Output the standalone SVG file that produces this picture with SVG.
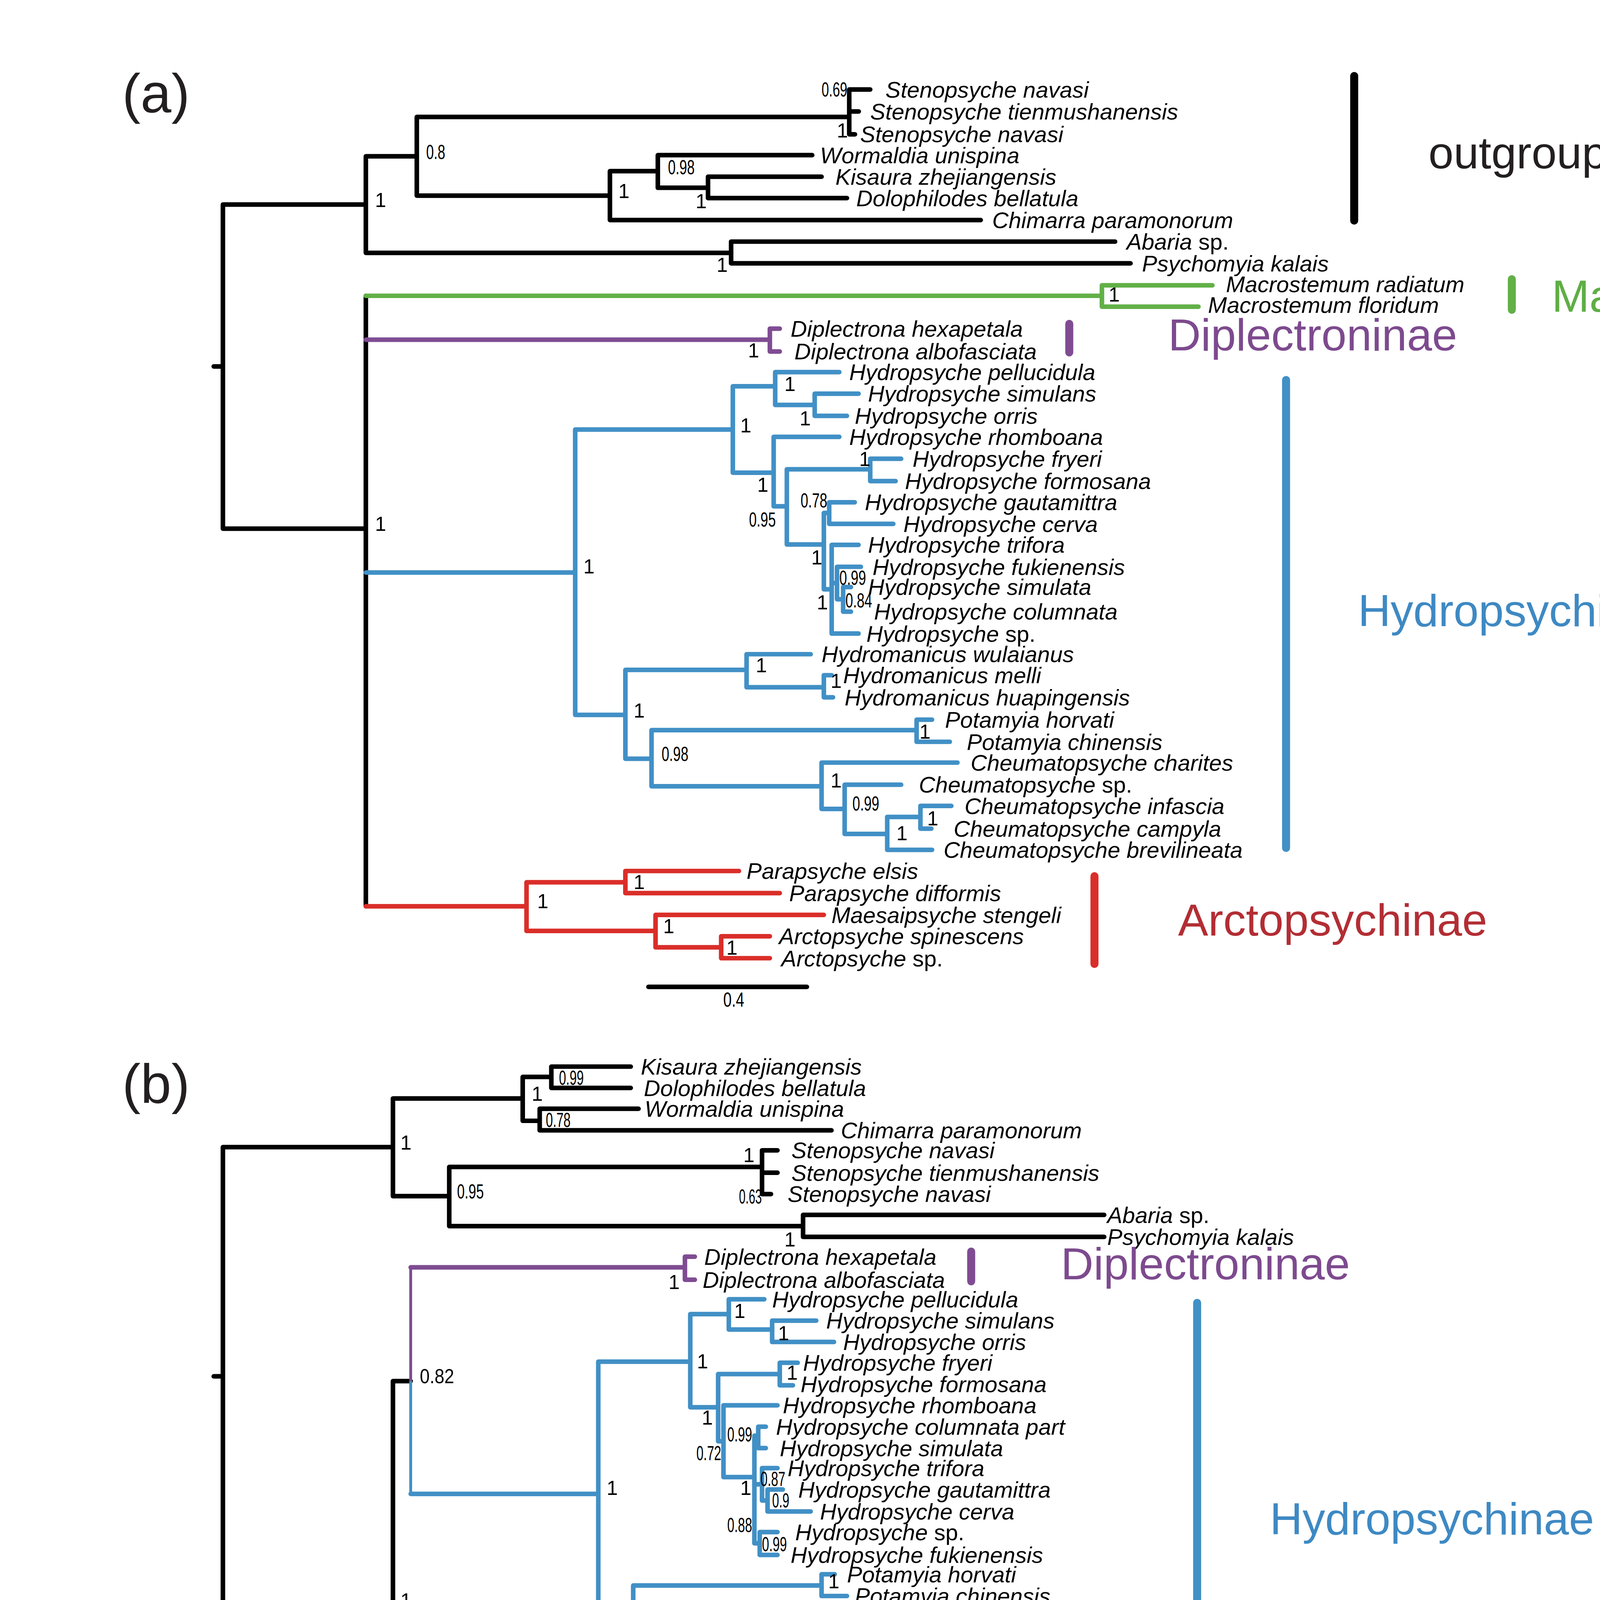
<svg xmlns="http://www.w3.org/2000/svg" width="5374" height="7600" viewBox="0 0 5374 7600">
<style>
.br{fill:none;stroke-width:2.4;stroke-linecap:round;stroke-linejoin:round}
.st{fill:none;stroke-width:1.5}
.bar{fill:none;stroke-width:4.2;stroke-linecap:round}
.k{stroke:#000}.gr{stroke:#62b047}.pu{stroke:#7f4c92}.bl{stroke:#4190c6}.rd{stroke:#da2e29}
text{font-family:"Liberation Sans",Arial,Helvetica,sans-serif}
.t{font-size:11.9px;font-style:italic;fill:#000}
.up{font-style:normal}
.s{font-size:10.5px;fill:#000}
.c{font-size:23.7px}
.pl{font-size:29px;fill:#231f20}
.cg{fill:#5fae45}.cp{fill:#7d4a8e}.cb{fill:#3e89c3}.cr{fill:#b32d34}.ck{fill:#231f20}
</style>
<rect width="5374" height="7600" fill="#fff"/>
<g transform="scale(4.8855)">
<!-- ================= PANEL A ================= -->
<g id="panel-a">
<text class="pl" x="64" y="59">(a)</text>
<g id="a-connectors">
<path class="br k" d="M112 192H116.8M116.8 107.2V277M116.8 107.2H191.7M191.7 81.9V132.5M191.7 81.9H218.4M218.4 61.3V102.5M218.4 61.3H445M445 46.9V70.4M445 46.9H456M445 58.4H450M445 70.4H448M218.4 102.5H319.6M319.6 89.7V115.3M319.6 89.7H344.7M344.7 81.3V98.4M344.7 81.3H425.6M344.7 98.4H371M371 92.6V103.8M371 92.6H430.5M371 103.8H443.8M319.6 115.3H513.9M191.7 132.5H383.1M383.1 126.6V138M383.1 126.6H584.3M383.1 138H592.4M116.8 277H191.7M191.7 155V474.9"/>
<path class="br gr" d="M191.7 155H577.4M577.4 149.5V160.7M577.4 149.5H635.3M577.4 160.7H628"/>
<path class="br pu" d="M191.7 178H403.4M403.4 172.2V184.2M403.4 172.2H408.6M403.4 184.2H408.6"/>
<path class="br bl" d="M191.7 300H301.4M301.4 225.1V374.6M301.4 225.1H384M384 202.4V247.7M384 202.4H406.2M406.2 195V212.2M406.2 195H439.8M406.2 212.2H426.9M426.9 206.3V217.9M426.9 206.3H449.9M426.9 217.9H443.8M384 247.7H405.4M405.4 228.9V265.3M405.4 228.9H439.8M405.4 265.3H412.3M412.3 245.9V285.3M412.3 245.9H456M456 240.4V252.1M456 240.4H472.2M456 252.1H469.3M412.3 285.3H431.7M431.7 268.8V308.8M431.7 268.8H434.5M434.5 263.2V274.5M434.5 263.2H447.9M434.5 274.5H468.1M431.7 308.8H435.8M435.8 285.5V332M435.8 285.5H449.9M435.8 332H449.9M435.8 305.5H438.6M438.6 297V314M438.6 297H451.1M438.6 314H441.8M441.8 307.6V320.5M441.8 307.6H445.9M441.8 320.5H445.9M301.4 374.6H327.7M327.7 351V397.6M327.7 351H391.2M391.2 342.8V360.1M391.2 342.8H424.8M391.2 360.1H431.7M431.7 353.8V365.4M431.7 353.8H435.8M431.7 365.4H436.5M327.7 397.6H341.4M341.4 382.6V412M341.4 382.6H480.3M480.3 377.1V388.7M480.3 377.1H488.4M480.3 388.7H497.7M341.4 412H430.5M430.5 399.6V423.9M430.5 399.6H501.7M430.5 423.9H442.6M442.6 411.2V437M442.6 411.2H472.2M442.6 437H464.9M464.9 428.1V445.3M464.9 428.1H482.3M482.3 422.3V434.2M482.3 422.3H498.5M482.3 434.2H488M464.9 445.3H488.4"/>
<path class="br rd" d="M191.7 474.9H275.9M275.9 462.3V487.8M275.9 462.3H327.7M327.7 456.4V468M327.7 456.4H387.2M327.7 468H408.6M275.9 487.8H343.5M343.5 479.4V496.4M343.5 479.4H431.7M343.5 496.4H377.9M377.9 490.6V502.1M377.9 490.6H403.4M377.9 502.1H403.4"/>
<path class="br k" d="M339.8 517.1H422.8"/>
</g>
<text class="s" x="379" y="527.4" textLength="11" lengthAdjust="spacingAndGlyphs">0.4</text>
<g id="a-tips">
<text id="a-t01" class="t" x="464" y="51.1">Stenopsyche navasi</text>
<text id="a-t02" class="t" x="456" y="62.6">Stenopsyche tienmushanensis</text>
<text id="a-t03" class="t" x="450.7" y="74.6">Stenopsyche navasi</text>
<text id="a-t04" class="t" x="429.7" y="85.5">Wormaldia unispina</text>
<text id="a-t05" class="t" x="437.8" y="96.8">Kisaura zhejiangensis</text>
<text id="a-t06" class="t" x="448.7" y="108">Dolophilodes bellatula</text>
<text id="a-t07" class="t" x="519.9" y="119.5">Chimarra paramonorum</text>
<text id="a-t08" class="t" x="590.3" y="130.8">Abaria <tspan class="up">sp.</tspan></text>
<text id="a-t09" class="t" x="598.4" y="142.2">Psychomyia kalais</text>
<text id="a-t10" class="t" x="642.4" y="153.2">Macrostemum radiatum</text>
<text id="a-t11" class="t" x="633" y="164">Macrostemum floridum</text>
<text id="a-t12" class="t" x="414.3" y="176.4">Diplectrona hexapetala</text>
<text id="a-t13" class="t" x="416.3" y="188.4">Diplectrona albofasciata</text>
<text id="a-t14" class="t" x="445" y="199.2">Hydropsyche pellucidula</text>
<text id="a-t15" class="t" x="454.8" y="210.5">Hydropsyche simulans</text>
<text id="a-t16" class="t" x="447.9" y="222.1">Hydropsyche orris</text>
<text id="a-t17" class="t" x="445" y="233.1">Hydropsyche rhomboana</text>
<text id="a-t18" class="t" x="478.2" y="244.6">Hydropsyche fryeri</text>
<text id="a-t19" class="t" x="474.2" y="256.3">Hydropsyche formosana</text>
<text id="a-t20" class="t" x="453.2" y="267.4">Hydropsyche gautamittra</text>
<text id="a-t21" class="t" x="473.4" y="278.7">Hydropsyche cerva</text>
<text id="a-t22" class="t" x="454.8" y="289.7">Hydropsyche trifora</text>
<text id="a-t23" class="t" x="457.2" y="301.2">Hydropsyche fukienensis</text>
<text id="a-t24" class="t" x="454.8" y="311.8">Hydropsyche simulata</text>
<text id="a-t25" class="t" x="458" y="324.7">Hydropsyche columnata</text>
<text id="a-t26" class="t" x="454" y="336.2">Hydropsyche <tspan class="up">sp.</tspan></text>
<text id="a-t27" class="t" x="430.5" y="347">Hydromanicus wulaianus</text>
<text id="a-t28" class="t" x="441.8" y="358">Hydromanicus melli</text>
<text id="a-t29" class="t" x="442.6" y="369.6">Hydromanicus huapingensis</text>
<text id="a-t30" class="t" x="495.2" y="381.3">Potamyia horvati</text>
<text id="a-t31" class="t" x="506.6" y="392.9">Potamyia chinensis</text>
<text id="a-t32" class="t" x="508.6" y="403.8">Cheumatopsyche charites</text>
<text id="a-t33" class="t" x="481.5" y="415.4">Cheumatopsyche <tspan class="up">sp.</tspan></text>
<text id="a-t34" class="t" x="505.4" y="426.5">Cheumatopsyche infascia</text>
<text id="a-t35" class="t" x="499.7" y="438.4">Cheumatopsyche campyla</text>
<text id="a-t36" class="t" x="494.4" y="449.5">Cheumatopsyche brevilineata</text>
<text id="a-t37" class="t" x="391.2" y="460.6">Parapsyche elsis</text>
<text id="a-t38" class="t" x="413.5" y="472.2">Parapsyche difformis</text>
<text id="a-t39" class="t" x="435.7" y="483.6">Maesaipsyche stengeli</text>
<text id="a-t40" class="t" x="408.2" y="494.8">Arctopsyche spinescens</text>
<text id="a-t41" class="t" x="409.4" y="506.3">Arctopsyche <tspan class="up">sp.</tspan></text>
</g>
<g id="a-support" class="s">
<text x="430.5" y="50.5" textLength="13.5" lengthAdjust="spacingAndGlyphs">0.69</text>
<text x="438.5" y="72">1</text>
<text x="223.3" y="83.4" textLength="10" lengthAdjust="spacingAndGlyphs">0.8</text>
<text x="196.5" y="108.5">1</text>
<text x="324" y="103.8">1</text>
<text x="350" y="91.3" textLength="14" lengthAdjust="spacingAndGlyphs">0.98</text>
<text x="364.5" y="109">1</text>
<text x="375.5" y="142.4">1</text>
<text x="580.9" y="158.1">1</text>
<text x="392" y="187.3">1</text>
<text x="196.5" y="278.2">1</text>
<text x="305.7" y="300.5">1</text>
<text x="387.9" y="226.5">1</text>
<text x="411" y="204.8">1</text>
<text x="419" y="223">1</text>
<text x="396.8" y="257.7">1</text>
<text x="392.5" y="275.9" textLength="14" lengthAdjust="spacingAndGlyphs">0.95</text>
<text x="450.2" y="244.1">1</text>
<text x="419.5" y="265.9" textLength="14" lengthAdjust="spacingAndGlyphs">0.78</text>
<text x="425.1" y="295.8">1</text>
<text x="439.8" y="306.4" textLength="14" lengthAdjust="spacingAndGlyphs">0.99</text>
<text x="443" y="318.2" textLength="14" lengthAdjust="spacingAndGlyphs">0.84</text>
<text x="428" y="319.3">1</text>
<text x="396" y="352.2">1</text>
<text x="435.2" y="360.5">1</text>
<text x="332" y="376">1</text>
<text x="346.7" y="398.7" textLength="14" lengthAdjust="spacingAndGlyphs">0.98</text>
<text x="481.8" y="387">1</text>
<text x="435.2" y="412.6">1</text>
<text x="446.7" y="424.8" textLength="14" lengthAdjust="spacingAndGlyphs">0.99</text>
<text x="469.7" y="440.3">1</text>
<text x="485.8" y="432.5">1</text>
<text x="281.5" y="475.8">1</text>
<text x="332" y="465.8">1</text>
<text x="347.5" y="489.1">1</text>
<text x="380.6" y="500.2">1</text>
</g>
<g id="a-outgroup"><path class="bar k" d="M709.6 39.8V115.6"/><text class="c ck" x="748.5" y="88.3">outgroup</text></g>
<g id="a-macronematinae"><path class="bar gr" d="M792.2 146.3V162.3"/><text class="c cg" x="813.1" y="163.4">Macronematinae</text></g>
<g id="a-diplectroninae"><path class="bar pu" d="M560.3 169.7V184.7"/><text class="c cp" x="612.1" y="183.6">Diplectroninae</text></g>
<g id="a-hydropsychinae"><path class="bar bl" d="M673.9 199.1V444.3"/><text class="c cb" x="711.6" y="328.1">Hydropsychinae</text></g>
<g id="a-arctopsychinae"><path class="bar rd" d="M573.5 459.1V505.1"/><text class="c cr" x="617.3" y="490.3">Arctopsychinae</text></g>
</g>
<!-- ================= PANEL B ================= -->
<g id="panel-b">
<text class="pl" x="64" y="577.9">(b)</text>
<g id="b-connectors">
<path class="br k" d="M112 721.2H116.8M116.8 601.1V841.6M116.8 601.1H205.9M205.9 575.6V626.8M205.9 575.6H273.9M273.9 564.3V587.3M273.9 564.3H288.9M288.9 558.9V570.1M288.9 558.9H330.5M288.9 570.1H330.5M273.9 587.3H282.8M282.8 581V592.3M282.8 581H334.6M282.8 592.3H435.7M205.9 626.8H235.4M235.4 611.5V642.5M235.4 611.5H399.3M399.3 602.8V625.7M399.3 602.8H407.4M399.3 614.5H407.4M399.3 625.7H404M235.4 642.5H420.8M420.8 636.6V648.1M420.8 636.6H578.6M420.8 648.1H578.6M116.8 841.6H205.9M205.9 723.7V959M205.9 723.7H215.2M205.9 959H216.4"/>
<path class="st pu" d="M215.2 723.7V664.1"/>
<path class="br pu" d="M215.2 664.1H358.9M358.9 658.5V670.6M358.9 658.5H364.1M358.9 670.6H364.1"/>
<path class="st bl" d="M215.2 723.7V782.8"/>
<path class="br bl" d="M215.2 782.8H313.5M313.5 713.5V852.7M313.5 713.5H361.7M361.7 688.6V737.4M361.7 688.6H381.9M381.9 680.8V696.7M381.9 680.8H400.5M381.9 696.7H404.6M404.6 692V703.2M404.6 692H427.7M404.6 703.2H437M361.7 737.4H376.3M376.3 720V755.2M376.3 720H408.6M408.6 714.1V725.9M408.6 714.1H418M408.6 725.9H415.5M376.3 755.2H379.1M379.1 736.4V774M379.1 736.4H407.4M379.1 774H395.3M395.3 752.3V808.7M395.3 752.3H397.3M397.3 747.6V758.8M397.3 747.6H401.3M397.3 758.8H401.3M395.3 777.8H399.3M399.3 769.3V786.3M399.3 769.3H407.4M399.3 786.3H402.2M402.2 780.5V792M402.2 780.5H410.2M402.2 792H424.8M395.3 808.7H398.1M398.1 802.8V814.8M398.1 802.8H407.4M398.1 814.8H407.4M313.5 852.7H331.8M331.8 830.8V875M331.8 830.8H430.5M430.5 824.9V836.3M430.5 824.9H437.4M430.5 836.3H443.8M331.8 875H339.8M339.8 855.7V892.6M339.8 855.7H382.3M382.3 847.5V864.1M382.3 847.5H404.6M382.3 864.1H408.6M408.6 858V870M408.6 858H413M408.6 870H413M339.8 892.6H398.1M398.1 880.4V904.3M398.1 880.4H438.6M398.1 904.3H407.4M407.4 891.5V917.6M407.4 891.5H446.7M407.4 917.6H418.3M418.3 907.6V925M418.3 907.6H430.5M430.5 902.3V913.9M430.5 902.3H436.5M430.5 913.9H437.5M418.3 925H432.9"/>
<path class="st gr" d="M216.4 959V941.5"/>
<path class="br gr" d="M216.4 941.5H534.1M534.1 935.9V947.2M534.1 935.9H585.5M534.1 947.2H558.4"/>
<path class="st rd" d="M216.4 959V976.8"/>
<path class="br rd" d="M216.4 976.8H259.7M259.7 964V989.2M259.7 964H292.9M292.9 958.3V970M292.9 958.3H328.5M292.9 970H337.8M259.7 989.2H303M303 980.6V997.5M303 980.6H358.9M303 997.5H325.3M325.3 991.6V1002.8M325.3 991.6H339.8M325.3 1002.8H340.5"/>
<path class="br k" d="M307 1017.3H390.4"/>
</g>
<text class="s" x="348.7" y="1029.7" textLength="11" lengthAdjust="spacingAndGlyphs">0.4</text>
<g id="b-tips">
<text id="b-t01" class="t" x="335.8" y="563.1">Kisaura zhejiangensis</text>
<text id="b-t02" class="t" x="337.4" y="574.3">Dolophilodes bellatula</text>
<text id="b-t03" class="t" x="337.8" y="585.2">Wormaldia unispina</text>
<text id="b-t04" class="t" x="440.6" y="596.5">Chimarra paramonorum</text>
<text id="b-t05" class="t" x="414.7" y="607">Stenopsyche navasi</text>
<text id="b-t06" class="t" x="414.7" y="618.7">Stenopsyche tienmushanensis</text>
<text id="b-t07" class="t" x="412.7" y="629.9">Stenopsyche navasi</text>
<text id="b-t08" class="t" x="580.2" y="640.8">Abaria <tspan class="up">sp.</tspan></text>
<text id="b-t09" class="t" x="580.2" y="652.3">Psychomyia kalais</text>
<text id="b-t10" class="t" x="369" y="662.7">Diplectrona hexapetala</text>
<text id="b-t11" class="t" x="368.2" y="674.8">Diplectrona albofasciata</text>
<text id="b-t12" class="t" x="404.6" y="685">Hydropsyche pellucidula</text>
<text id="b-t13" class="t" x="432.9" y="696.2">Hydropsyche simulans</text>
<text id="b-t14" class="t" x="441.8" y="707.4">Hydropsyche orris</text>
<text id="b-t15" class="t" x="420.8" y="718.3">Hydropsyche fryeri</text>
<text id="b-t16" class="t" x="419.5" y="729.5">Hydropsyche formosana</text>
<text id="b-t17" class="t" x="410.2" y="740.6">Hydropsyche rhomboana</text>
<text id="b-t18" class="t" x="406.6" y="751.8">Hydropsyche columnata part</text>
<text id="b-t19" class="t" x="408.6" y="763">Hydropsyche simulata</text>
<text id="b-t20" class="t" x="412.7" y="773.5">Hydropsyche trifora</text>
<text id="b-t21" class="t" x="418.3" y="784.7">Hydropsyche gautamittra</text>
<text id="b-t22" class="t" x="429.7" y="796.2">Hydropsyche cerva</text>
<text id="b-t23" class="t" x="416.7" y="807">Hydropsyche <tspan class="up">sp.</tspan></text>
<text id="b-t24" class="t" x="414.3" y="819">Hydropsyche fukienensis</text>
<text id="b-t25" class="t" x="443.8" y="829.1">Potamyia horvati</text>
<text id="b-t26" class="t" x="447.9" y="840.5">Potamyia chinensis</text>
<text id="b-t27" class="t" x="408.6" y="851.7">Hydromanicus wulaianus</text>
<text id="b-t28" class="t" x="420.4" y="862.2">Hydromanicus melli</text>
<text id="b-t29" class="t" x="418.3" y="874.2">Hydromanicus huapingensis</text>
<text id="b-t30" class="t" x="443" y="884.6">Cheumatopsyche charites</text>
<text id="b-t31" class="t" x="452" y="895.7">Cheumatopsyche sppart</text>
<text id="b-t32" class="t" x="445.9" y="906.5">Cheumatopsyche infascia</text>
<text id="b-t33" class="t" x="446.7" y="918.1">Cheumatopsyche brevilineata</text>
<text id="b-t34" class="t" x="440.6" y="929.2">Cheumatopsyche campyla</text>
<text id="b-t35" class="t" x="590.5" y="940.3">Macrostemum radiatum</text>
<text id="b-t36" class="t" x="564.1" y="951.5">Macrostemum floridum</text>
<text id="b-t37" class="t" x="332.5" y="962.5">Parapsyche elsis</text>
<text id="b-t38" class="t" x="342.7" y="974.2">Parapsyche difformis</text>
<text id="b-t39" class="t" x="364.1" y="984.8">Maesaipsyche stengeli</text>
<text id="b-t40" class="t" x="345.9" y="995.8">Arctopsyche spinescens</text>
<text id="b-t41" class="t" x="347.5" y="1007">Arctopsyche <tspan class="up">sp.</tspan></text>
</g>
<g id="b-support" class="s">
<text x="209.8" y="602.4">1</text>
<text x="278.6" y="576.9">1</text>
<text x="292.9" y="568.5" textLength="13" lengthAdjust="spacingAndGlyphs">0.99</text>
<text x="286" y="590.6" textLength="13" lengthAdjust="spacingAndGlyphs">0.78</text>
<text x="239.5" y="628" textLength="14" lengthAdjust="spacingAndGlyphs">0.95</text>
<text x="389.5" y="609">1</text>
<text x="387.2" y="630.6" textLength="12" lengthAdjust="spacingAndGlyphs">0.63</text>
<text x="411" y="653.1">1</text>
<text x="209.8" y="842.2">1</text>
<text x="220" y="724.7" textLength="18" lengthAdjust="spacingAndGlyphs">0.82</text>
<text x="350.3" y="675.5">1</text>
<text x="317.9" y="783.4">1</text>
<text x="365.2" y="717">1</text>
<text x="384.7" y="690.7">1</text>
<text x="407.7" y="702.2">1</text>
<text x="412.2" y="723">1</text>
<text x="367.7" y="746.4">1</text>
<text x="364.9" y="765.2" textLength="13" lengthAdjust="spacingAndGlyphs">0.72</text>
<text x="387.9" y="783.4">1</text>
<text x="381.1" y="755.2" textLength="13" lengthAdjust="spacingAndGlyphs">0.99</text>
<text x="398.5" y="778.7" textLength="13" lengthAdjust="spacingAndGlyphs">0.87</text>
<text x="404.6" y="789.9" textLength="9" lengthAdjust="spacingAndGlyphs">0.9</text>
<text x="381.1" y="802.8" textLength="13" lengthAdjust="spacingAndGlyphs">0.88</text>
<text x="399.3" y="812.8" textLength="13" lengthAdjust="spacingAndGlyphs">0.99</text>
<text x="336.1" y="853.3">1</text>
<text x="434" y="832.2">1</text>
<text x="344.7" y="875.7" textLength="13" lengthAdjust="spacingAndGlyphs">0.71</text>
<text x="385.9" y="856.9">1</text>
<text x="411" y="866">1</text>
<text x="402.9" y="893.8">1</text>
<text x="411.8" y="905.4">1</text>
<text x="422.3" y="918.2">1</text>
<text x="434" y="911">1</text>
<text x="220.4" y="960.3" textLength="10" lengthAdjust="spacingAndGlyphs">0.7</text>
<text x="528.3" y="953.1">1</text>
<text x="263.3" y="978.1">1</text>
<text x="296.4" y="967.5">1</text>
<text x="306.5" y="990.3">1</text>
<text x="328" y="1000.8">1</text>
</g>
<g id="b-diplectroninae"><path class="bar pu" d="M508.9 655.8V671.4"/><text class="c cp" x="555.9" y="670.3">Diplectroninae</text></g>
<g id="b-hydropsychinae"><path class="bar bl" d="M627.3 682.7V924.1"/><text class="c cb" x="665.4" y="804">Hydropsychinae</text></g>
<g id="b-macronematinae"><path class="bar gr" d="M741.7 938.5V954.4"/><text class="c cg" x="762.5" y="955">Macronematinae</text></g>
<g id="b-arctopsychinae"><path class="bar rd" d="M514.9 964.1V1010.9"/><text class="c cr" x="558.3" y="996.5">Arctopsychinae</text></g>
</g>
<!-- ================= PANEL C ================= -->
<g id="panel-c">
<text class="pl" x="64" y="1101.6">(c)</text>
<g id="c-connectors">
<path class="br k" d="M112 1236.4H116.8M116.8 1116.8V1356.8M116.8 1116.8H195.8M195.8 1089.6V1144.1M195.8 1089.6H260.9M260.9 1078.3V1101.1M260.9 1078.3H275.9M275.9 1072.9V1084.2M275.9 1072.9H309.1M275.9 1084.2H312.3M260.9 1101.1H268.6M268.6 1095.1V1106.3M268.6 1095.1H311.1M268.6 1106.3H392.4M195.8 1144.1H226.1M226.1 1131.4V1156.4M226.1 1131.4H371M371 1117.3V1140.3M371 1117.3H379.1M371 1128.8H376M371 1140.3H375M226.1 1156.4H394.1M394.1 1150.9V1162M394.1 1150.9H515.5M394.1 1162H530.9M116.8 1356.8H195.8M195.8 1238.7V1474.3M195.8 1238.7H205.9M195.8 1474.3H205.9"/>
<path class="st pu" d="M205.9 1238.7V1178.4"/>
<path class="br pu" d="M205.9 1178.4H320.4M320.4 1172.6V1184.6M320.4 1172.6H324M320.4 1184.6H324"/>
<path class="st bl" d="M205.9 1238.7V1299.2"/>
<path class="br bl" d="M205.9 1299.2H290.8M290.8 1223.5V1374.4M290.8 1223.5H334.6M334.6 1202.9V1244M334.6 1202.9H348.7M348.7 1194.6V1211.3M348.7 1194.6H364.1M348.7 1211.3H369M369 1206.6V1217.6M369 1206.6H392.4M369 1217.6H399.3M334.6 1244H348.7M348.7 1228.7V1259.9M348.7 1228.7H368.2M348.7 1259.9H351.9M351.9 1245.2V1274.6M351.9 1245.2H381.1M381.1 1239.1V1251.3M381.1 1239.1H385M381.1 1251.3H385M351.9 1274.6H360.9M360.9 1261.9V1290M360.9 1261.9H377.9M360.9 1272.8H371M360.9 1284.6H375.1M360.9 1290H365.7M365.7 1290V1328.6M365.7 1300.4H371M371 1295.1V1305.7M371 1295.1H374M371 1305.7H374M365.7 1317.5H377.1M365.7 1328.6H377.1M290.8 1374.4H306.2M306.2 1345.1V1407.7M306.2 1345.1H387.2M387.2 1339.2V1351.2M387.2 1339.2H391M387.2 1351.2H397.3M306.2 1370.9H339.8M339.8 1361.5V1380M339.8 1361.5H362.9M339.8 1380H360.9M360.9 1373V1384.5M360.9 1373H363M360.9 1384.5H363M306.2 1407.7H356.8M356.8 1395.7V1420.2M356.8 1395.7H389.2M356.8 1420.2H367M367 1406.7V1432.8M367 1406.7H405.4M367 1432.8H376.3M376.3 1423.4V1440.3M376.3 1423.4H387.2M387.2 1417.3V1429.1M387.2 1417.3H390M387.2 1429.1H392M376.3 1440.3H387.2"/>
<path class="st gr" d="M205.9 1474.3V1456.8"/>
<path class="br gr" d="M205.9 1456.8H499.7M499.7 1451V1462.5M499.7 1451H542.2M499.7 1462.5H519.9"/>
<path class="st rd" d="M205.9 1474.3V1491.5"/>
<path class="br rd" d="M205.9 1491.5H243.5M243.5 1478.7V1504.3M243.5 1478.7H271.8M271.8 1473.5V1485M271.8 1473.5H303M271.8 1485H316.4M243.5 1504.3H284M284 1495.7V1512.7M284 1495.7H331.7M284 1512.7H301M301 1507V1518.2M301 1507H315.1M301 1518.2H316"/>
<path class="br k" d="M284.8 1532.7H369"/>
</g>
<text class="s" x="324.5" y="1545" textLength="11" lengthAdjust="spacingAndGlyphs">0.4</text>
<g id="c-tips">
<text id="c-t01" class="t" x="314.3" y="1077.1">Kisaura zhejiangensis</text>
<text id="c-t02" class="t" x="315.1" y="1088.4">Dolophilodes bellatula</text>
<text id="c-t03" class="t" x="315.5" y="1099.3">Wormaldia unispina</text>
<text id="c-t04" class="t" x="398.1" y="1110.5">Chimarra paramonorum</text>
<text id="c-t05" class="t" x="383.1" y="1121.5">Stenopsyche navasi</text>
<text id="c-t06" class="t" x="377.9" y="1133">Stenopsyche tienmushanensis</text>
<text id="c-t07" class="t" x="376.3" y="1144.5">Stenopsyche navasi</text>
<text id="c-t08" class="t" x="522.8" y="1155.1">Abaria <tspan class="up">sp.</tspan></text>
<text id="c-t09" class="t" x="538.1" y="1166.2">Psychomyia kalais</text>
<text id="c-t10" class="t" x="333.4" y="1176.8">Diplectrona hexapetala</text>
<text id="c-t11" class="t" x="332.6" y="1188.8">Diplectrona albofasciata</text>
<text id="c-t12" class="t" x="369.8" y="1198.8">Hydropsyche pellucidula</text>
<text id="c-t13" class="t" x="398.1" y="1210.8">Hydropsyche simulans</text>
<text id="c-t14" class="t" x="405.4" y="1221.8">Hydropsyche orris</text>
<text id="c-t15" class="t" x="375.1" y="1232.9">Hydropsyche fryeri</text>
<text id="c-t16" class="t" x="392.4" y="1243.3">Hydropsyche formosana</text>
<text id="c-t17" class="t" x="388.4" y="1255.5">Hydropsyche rhomboana</text>
<text id="c-t18" class="t" x="384.4" y="1266.1">Hydropsyche columnata part</text>
<text id="c-t19" class="t" x="376.3" y="1277">Hydropsyche simulata</text>
<text id="c-t20" class="t" x="381.1" y="1288.8">Hydropsyche trifora</text>
<text id="c-t21" class="t" x="380.3" y="1299.3">Hydropsyche gautamittra</text>
<text id="c-t22" class="t" x="383.9" y="1309.9">Hydropsyche cerva</text>
<text id="c-t23" class="t" x="385.2" y="1321.7">Hydropsyche <tspan class="up">sp.</tspan></text>
<text id="c-t24" class="t" x="382.3" y="1332.8">Hydropsyche fukienensis</text>
<text id="c-t25" class="t" x="400.5" y="1343.4">Potamyia horvati</text>
<text id="c-t26" class="t" x="403.4" y="1355.4">Potamyia chinensis</text>
<text id="c-t27" class="t" x="364.1" y="1365.7">Hydromanicus wulaianus</text>
<text id="c-t28" class="t" x="373" y="1377.2">Hydromanicus melli</text>
<text id="c-t29" class="t" x="373.8" y="1388.7">Hydromanicus huapingensis</text>
<text id="c-t30" class="t" x="397.3" y="1399.9">Cheumatopsyche charites</text>
<text id="c-t31" class="t" x="407.4" y="1410.9">Cheumatopsyche sppart</text>
<text id="c-t32" class="t" x="400.5" y="1421.5">Cheumatopsyche infascia</text>
<text id="c-t33" class="t" x="401.3" y="1433.3">Cheumatopsyche brevilineata</text>
<text id="c-t34" class="t" x="396.5" y="1444.5">Cheumatopsyche campyla</text>
<text id="c-t35" class="t" x="546.2" y="1455.4">Macrostemum radiatum</text>
<text id="c-t36" class="t" x="523.8" y="1466.7">Macrostemum floridum</text>
<text id="c-t37" class="t" x="310.3" y="1477.7">Parapsyche elsis</text>
<text id="c-t38" class="t" x="320.4" y="1489.2">Parapsyche difformis</text>
<text id="c-t39" class="t" x="339.8" y="1499.9">Maesaipsyche stengeli</text>
<text id="c-t40" class="t" x="323.2" y="1511.2">Arctopsyche spinescens</text>
<text id="c-t41" class="t" x="324.5" y="1522.4">Arctopsyche <tspan class="up">sp.</tspan></text>
</g>
<g id="c-support" class="s">
<text x="262.5" y="1072.4" textLength="12" lengthAdjust="spacingAndGlyphs">0.99</text>
<text x="249.9" y="1100.6">1</text>
<text x="255.7" y="1113.1" textLength="12" lengthAdjust="spacingAndGlyphs">0.57</text>
<text x="198.5" y="1117.8">1</text>
<text x="230.2" y="1145" textLength="12" lengthAdjust="spacingAndGlyphs">0.98</text>
<text x="359.7" y="1122.5" textLength="9" lengthAdjust="spacingAndGlyphs">0.5</text>
<text x="360.5" y="1139.7">1</text>
<text x="386.7" y="1152.3">1</text>
<text x="198.5" y="1358">1</text>
<text x="209.1" y="1239.6" textLength="12" lengthAdjust="spacingAndGlyphs">0.78</text>
<text x="324" y="1180.5">1</text>
<text x="292.4" y="1300.4">1</text>
<text x="337.3" y="1225.2">1</text>
<text x="351.5" y="1204.5">1</text>
<text x="362.4" y="1218.2">1</text>
<text x="371.7" y="1241.7">1</text>
<text x="340.1" y="1254.6">1</text>
<text x="336.6" y="1268.7" textLength="12" lengthAdjust="spacingAndGlyphs">0.98</text>
<text x="352.3" y="1285">1</text>
<text x="348.7" y="1297.5" textLength="12" lengthAdjust="spacingAndGlyphs">0.98</text>
<text x="368.5" y="1305">1</text>
<text x="358.4" y="1307.5">1</text>
<text x="352.8" y="1321.6" textLength="12" lengthAdjust="spacingAndGlyphs">0.98</text>
<text x="355.6" y="1335.1" textLength="12" lengthAdjust="spacingAndGlyphs">0.99</text>
<text x="299.7" y="1385.6">1</text>
<text x="390.7" y="1346.8">1</text>
<text x="344.2" y="1371.5">1</text>
<text x="363.6" y="1380.3">1</text>
<text x="361.2" y="1409.3">1</text>
<text x="370.5" y="1421.1">1</text>
<text x="379.8" y="1432.8">1</text>
<text x="389.5" y="1425">1</text>
<text x="209.9" y="1475.6" textLength="9" lengthAdjust="spacingAndGlyphs">0.7</text>
<text x="503.2" y="1459.9">1</text>
<text x="246.8" y="1494.4" textLength="12" lengthAdjust="spacingAndGlyphs">0.99</text>
<text x="275.4" y="1481.9">1</text>
<text x="287.5" y="1505.3">1</text>
<text x="303.7" y="1515.8">1</text>
</g>
<g id="c-diplectroninae"><path class="bar pu" d="M478 1168.8V1184.7"/><text class="c cp" x="515" y="1183.6">Diplectroninae</text></g>
<g id="c-hydropsychinae"><path class="bar bl" d="M596.4 1195.3V1439"/><text class="c cb" x="634.5" y="1314.7">Hydropsychinae</text></g>
<g id="c-macronematinae"><path class="bar gr" d="M710.8 1448.9V1464.5"/><text class="c cg" x="731.7" y="1465">Macronematinae</text></g>
<g id="c-arctopsychinae"><path class="bar rd" d="M484 1472.9V1520.5"/><text class="c cr" x="527.8" y="1504.4">Arctopsychinae</text></g>
</g>
</g>
</svg>
